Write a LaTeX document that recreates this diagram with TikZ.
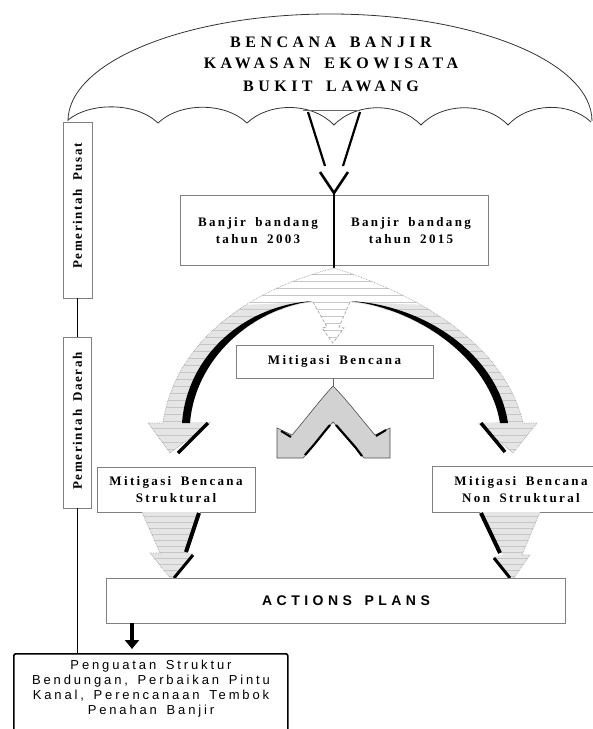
\documentclass[tikz,border=0pt]{standalone}
\usepackage{fontspec}
\setmainfont{Liberation Serif}
\newfontfamily\titlefont{Liberation Serif}[LetterSpace=28, WordSpace=1.6]
\newfontfamily\boxfont{Liberation Serif}[LetterSpace=18, WordSpace=1.7]
\newfontfamily\vertfont{Liberation Serif}[LetterSpace=13, WordSpace=1.6]
\newfontfamily\actfont{Liberation Sans}[LetterSpace=32, WordSpace=1.5]
\newfontfamily\botfont{Liberation Sans}[LetterSpace=22, WordSpace=1.5]
\usetikzlibrary{arrows.meta}
\tikzset{
  gbox/.style={draw=black!50, line width=0.9pt, inner sep=0pt, fill=white},
  titletext/.style={anchor=base, inner sep=0pt, font=\titlefont\bfseries\fontsize{16}{18}\selectfont},
  boxtext/.style={align=center, inner sep=0pt, font=\boxfont\bfseries\fontsize{13}{17}\selectfont},
  verttext/.style={rotate=90, inner sep=0pt, font=\vertfont\bfseries\fontsize{13}{14}\selectfont},
  shadowline/.style={line width=3.5pt, black},
  hatch/.style={gray!45, line width=0.45pt},
  softedge/.style={draw=gray!70, densely dotted, line width=0.7pt}
}
\newcommand\fanpath{(334,268) .. controls (250,290) and (175,340) .. (163,423)
  -- (148,423) -- (170,453) -- (211,422) -- (190,422)
  .. controls (195,360) and (250,310) .. (313,302)
  -- (327,327) -- (322,328) -- (333,343) -- (344,328) -- (339,327) -- (350,302)
  .. controls (420,310) and (490,360) .. (500,422)
  -- (478,423) -- (513,453) -- (537,423) -- (523,423)
  .. controls (505,345) and (420,295) .. (334,268) -- cycle}
\newcommand\lowleftpath{(142,512) -- (200,512) -- (187,553) -- (194,553) -- (171,579) -- (150,553) -- (160,553) -- cycle}
\newcommand\lowrightpath{(480,512) -- (540,512) -- (522,555) -- (530,555) -- (513,579) -- (492,557) -- (503,555) -- cycle}
\begin{document}
\begin{tikzpicture}[x=1pt,y=-1pt]
\useasboundingbox (0,0) rectangle (593,729);

% umbrella dome
\draw[line width=0.8pt, black!80] (68,121) arc[start angle=180, end angle=360, x radius=262, y radius=107];
\draw[line width=0.8pt, black!80] (68,120)
  .. controls (90,102) and (136,102) .. (158,123)
  .. controls (180,102) and (225,102) .. (247,123)
  .. controls (269,102) and (312,102) .. (334,125)
  .. controls (356,102) and (399,102) .. (421,125)
  .. controls (443,102) and (486,102) .. (508,125)
  .. controls (529,102) and (570,102) .. (591,122);
\node[titletext] (t1) at (331,47) {BENCANA BANJIR};
\node[titletext] (t2) at (331,68) {KAWASAN EKOWISATA};
\node[titletext] (t3) at (331,91) {BUKIT LAWANG};

% V arrow from the umbrella
\draw[black!60, line width=0.6pt] (303,110) -- (360,110);
\draw[line width=2.2pt] (308,112) -- (325,166);
\draw[line width=2.2pt] (360,112) -- (343,166);
\draw[line width=2.6pt] (320,172) -- (334,193) -- (348,172);
\coordinate (vtip) at (334,192);
\coordinate (apex) at (334,268);

% flood boxes
\node[gbox, minimum width=308pt, minimum height=70pt] (banjir) at (334,230) {};
\node[boxtext] (b1) at (258,231) {Banjir bandang\\tahun 2003};
\node[boxtext] (b2) at (411,231) {Banjir bandang\\tahun 2015};
\draw[line width=1.6pt] (vtip) -- (apex);

% fan of curved arrows
\fill[gray!20] \fanpath;
\begin{scope}
  \clip \fanpath;
  \fill[white] (334,262) -- (240,305) -- (313,302) -- (327,327) -- (322,328) -- (333,343)
     -- (344,328) -- (339,327) -- (350,302) -- (430,305) -- cycle;
  \foreach \yy in {274,281,...,460} \draw[hatch] (140,\yy) -- (545,\yy);
\end{scope}
\draw[softedge] (334,268) .. controls (250,290) and (175,340) .. (163,423) -- (148,423) -- (170,453) -- (211,422);
\draw[softedge] (334,268) .. controls (420,295) and (505,345) .. (523,423) -- (537,423) -- (513,453) -- (478,423);
\draw[gray!70, densely dashed, line width=0.7pt] (313,302) -- (327,327) -- (322,328) -- (333,343) -- (344,328) -- (339,327) -- (350,302);
\fill[black] (313,301) .. controls (250,309) and (195,360) .. (190,423) -- (182,423) .. controls (187,355) and (245,305) .. (313,301) -- cycle;
\fill[black] (350,301) .. controls (420,309) and (490,360) .. (500,423) -- (508,423) .. controls (498,355) and (425,305) .. (350,301) -- cycle;
\draw[shadowline] (208,423) -- (178,453);
\draw[shadowline] (481,423) -- (505,452);

% Mitigasi Bencana
\node[gbox, minimum width=197pt, minimum height=33pt] (mitigasi) at (334.5,361.5) {};
\node[boxtext] (mtext) at (334.5,361.5) {Mitigasi Bencana};
\coordinate (peak) at (333,386);
\draw[black!60, line width=0.6pt] (mitigasi.south -| peak) -- (peak);

% double arrow
\filldraw[fill=gray!35, draw=black!70, line width=0.6pt]
  (333,386) .. controls (320,400) and (305,420) .. (292,435) -- (277,428) -- (277,458) -- (303,458) -- (310,450)
  .. controls (318,440) and (326,430) .. (333,422)
  .. controls (340,430) and (348,440) .. (357,450) -- (364,458) -- (390,458) -- (390,428) -- (375,435)
  .. controls (362,420) and (347,400) .. (333,386) -- cycle;
\draw[line width=2.2pt] (305,455) -- (312,447) .. controls (318,440) and (324,432) .. (330,425);
\draw[line width=2.2pt] (336,425) .. controls (342,432) and (350,441) .. (356,448) -- (362,456);
\draw[line width=2pt] (281,431) -- (291,437);
\draw[line width=2pt] (376,436) -- (386,430);

% level boxes
\node[gbox, minimum width=158pt, minimum height=45pt] (struk) at (176,489.5) {};
\node[boxtext] (stext) at (176,490) {Mitigasi Bencana\\Struktural};
\node[gbox, minimum width=161pt, minimum height=46pt] (nonstruk) at (512.5,489) {};
\node[boxtext] (ntext) at (521,490) {Mitigasi Bencana\\Non Struktural};

% lower arrows
\fill[gray!20] \lowleftpath;
\begin{scope}
  \clip \lowleftpath;
  \foreach \yy in {516,522,...,578} \draw[hatch] (130,\yy) -- (210,\yy);
\end{scope}
\draw[softedge] (142,512) -- (160,553) -- (150,553) -- (171,579);
\draw[line width=4pt] (199,513) -- (186,552);
\draw[line width=3pt] (193,555) -- (174,578);

\fill[gray!20] \lowrightpath;
\begin{scope}
  \clip \lowrightpath;
  \foreach \yy in {516,522,...,578} \draw[hatch] (470,\yy) -- (550,\yy);
\end{scope}
\draw[softedge] (540,512) -- (522,555) -- (530,555) -- (513,579);
\draw[line width=4pt] (481,513) -- (500,553);
\draw[line width=3pt] (494,558) -- (510,578);

% actions plans
\node[gbox, minimum width=459pt, minimum height=45pt] (actions) at (335.5,600.5) {};
\node[inner sep=0pt, font=\actfont\bfseries\fontsize{14}{16}\selectfont] (atext) at (346,600.5) {ACTIONS PLANS};

% government levels
\node[gbox, minimum width=29pt, minimum height=176pt] (pusat) at (77.5,210) {};
\node[verttext] (ptext) at (77.5,206) {Pemerintah Pusat};
\node[gbox, minimum width=28pt, minimum height=171pt] (daerah) at (77.5,422.5) {};
\node[verttext] (dtext) at (77.5,421) {Pemerintah Daerah};

% bottom box
\node[draw=black, line width=1.6pt, rounded corners=2pt, minimum width=274pt, minimum height=95pt, anchor=north west, inner sep=0pt] (bottombox) at (13,653) {};
\node[align=center, inner sep=0pt, font=\botfont\fontsize{13}{15}\selectfont] (btext) at (151,689) {Penguatan Struktur\\Bendungan, Perbaikan Pintu\\Kanal, Perencanaan Tembok\\Penahan Banjir};

% connectors
\draw[line width=1.5pt] (pusat.south) -- (daerah.north);
\draw[line width=1.5pt] (daerah.south) -- (daerah.south |- bottombox.north);
\coordinate (ax) at (132,0);
\draw[line width=4pt, -{Triangle[width=14pt,length=9pt]}] (actions.south -| ax) -- ([yshift=4pt]bottombox.north -| ax);
\end{tikzpicture}
\end{document}
